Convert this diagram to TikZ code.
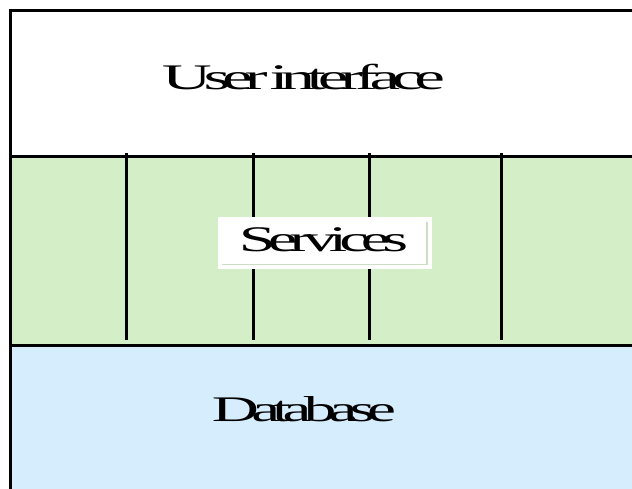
\documentclass[tikz,border=0pt]{standalone}
\usepackage{fontspec}
\setmainfont{Liberation Serif}
\newfontfamily\tightserif[LetterSpace=-12]{Liberation Serif}
\usepackage{graphicx}
\definecolor{svcgreen}{RGB}{212,238,200}
\definecolor{dbblue}{RGB}{214,237,253}
\definecolor{shadowline}{RGB}{205,220,195}
\tikzset{
  layer/.style={draw=black, line width=3pt},
  divider/.style={draw=black, line width=3pt},
  label/.style={anchor=base, inner sep=0pt, font=\tightserif\fontsize{36}{36}\selectfont},
}
\begin{document}
\begin{tikzpicture}[x=1pt,y=-1pt]
  \useasboundingbox (0,0) rectangle (632,488);
  \begin{scope}
    \clip (0,0) rectangle (632,488);
    % three stacked layers, running past the right and bottom edges
    \path[layer, fill=white]    (10.5,10.5) rectangle (660,156);
    \path[layer, fill=svcgreen] (10.5,156) rectangle (660,345);
    \path[layer, fill=dbblue]   (10.5,345) rectangle (660,520);
    % service columns
    \foreach \x/\n in {126/a,253/b,369/c,501/d} {
      \coordinate (top\n) at (\x,153);
      \coordinate (bot\n) at (\x,340);
      \draw[divider] (top\n) -- (bot\n);
    }
  \end{scope}
  % label plate of the services layer
  \node[draw=none, fill=white, minimum width=214pt, minimum height=52pt,
        inner sep=0pt, anchor=north west] (plate) at (218,217) {};
  \coordinate (sh1) at (427,222);
  \coordinate (sh2) at (427,264.5);
  \coordinate (sh3) at (222,264.5);
  \draw[shadowline, line width=1.2pt] (sh1) -- (sh2) -- (sh3);
  \node[label] (ui) at (303.5,89) {\resizebox{283pt}{\height}{User\hspace{-0.1em} interface}};
  \node[label] (svc) at (323.5,251) {\resizebox{169pt}{\height}{Services}};
  \node[label] (db) at (304,421) {\resizebox{184pt}{\height}{Database}};
\end{tikzpicture}
\end{document}
